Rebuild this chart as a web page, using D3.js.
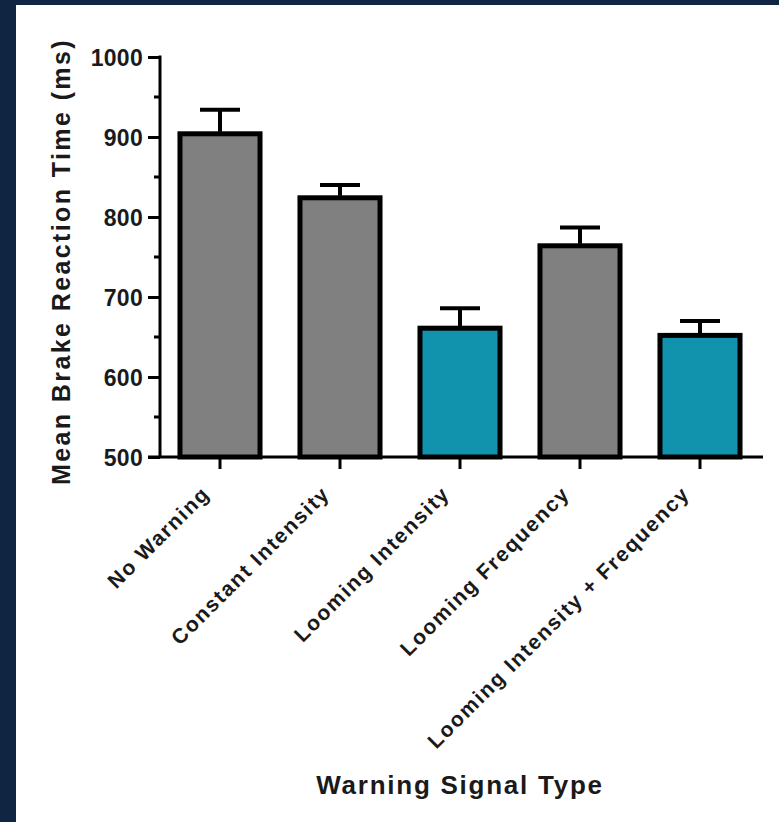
<!DOCTYPE html>
<html>
<head>
<meta charset="utf-8">
<script src="https://cdn.jsdelivr.net/npm/d3@7"></script>
<style>
  html, body { margin: 0; padding: 0; background: #0f2542; }
  svg { display: block; }
  text { font-family: "Liberation Sans", Arial, sans-serif; font-weight: bold; fill: #1a1a1a; }
</style>
</head>
<body>
<svg id="chart" width="779" height="822"></svg>
<script>
// Mean brake reaction time by warning signal type
const categories = ["No Warning", "Constant Intensity", "Looming Intensity", "Looming Frequency", "Looming Intensity + Frequency"];
const meanRT = [904, 824, 661, 764, 652];
const errorRT = [30, 16, 25, 23, 18];
const highlighted = [false, false, true, false, true];
const yTicks = [500, 600, 700, 800, 900, 1000];
const yMinorTicks = [550, 650, 750, 850, 950];

const svg = d3.select("#chart");
const W = 779, H = 822;

// page panel
svg.append("rect").attr("x", 0).attr("y", 0).attr("width", W).attr("height", H).attr("fill", "#0f2542");
svg.append("rect").attr("x", 16).attr("y", 5).attr("width", W - 16).attr("height", H - 5).attr("fill", "#ffffff");

const x = d3.scaleBand().domain(categories).range([160, 760]).paddingInner(0.333).paddingOuter(0.1665);
const y = d3.scaleLinear().domain([500, 1000]).range([457, 57]);

const ink = "#000000";

// bars
const g = svg.append("g");
g.selectAll("rect.bar").data(categories).join("rect")
  .attr("class", "bar")
  .attr("x", d => x(d))
  .attr("width", x.bandwidth())
  .attr("y", (d, i) => y(meanRT[i]))
  .attr("height", (d, i) => y(500) - y(meanRT[i]))
  .attr("fill", (d, i) => highlighted[i] ? "#1193ad" : "#808080")
  .attr("stroke", ink)
  .attr("stroke-width", 5);

// error bars (upper half)
const cx = d => x(d) + x.bandwidth() / 2;
g.selectAll("line.stem").data(categories).join("line")
  .attr("x1", cx).attr("x2", cx)
  .attr("y1", (d, i) => y(meanRT[i]) - 2)
  .attr("y2", (d, i) => y(meanRT[i] + errorRT[i]))
  .attr("stroke", ink).attr("stroke-width", 4);
g.selectAll("line.cap").data(categories).join("line")
  .attr("x1", d => cx(d) - 20).attr("x2", d => cx(d) + 20)
  .attr("y1", (d, i) => y(meanRT[i] + errorRT[i]))
  .attr("y2", (d, i) => y(meanRT[i] + errorRT[i]))
  .attr("stroke", ink).attr("stroke-width", 4);

// y axis
const yAxis = svg.append("g").attr("transform", "translate(160,0)")
  .call(d3.axisLeft(y).tickValues(yTicks).tickSize(12).tickPadding(5).tickFormat(d3.format("d")));
yAxis.select(".domain").attr("stroke", ink).attr("stroke-width", 3).attr("d", `M0,${y(1000) - 1.5}V${y(500)}`);
yAxis.selectAll(".tick line").attr("stroke", ink).attr("stroke-width", 3);
yAxis.selectAll(".tick text").attr("dy", "0.36em")
  .style("font-size", "23px").style("letter-spacing", "0.3px");
svg.append("g").attr("transform", "translate(160,0)").selectAll("line").data(yMinorTicks).join("line")
  .attr("x1", -6).attr("x2", 0).attr("y1", d => y(d)).attr("y2", d => y(d))
  .attr("stroke", ink).attr("stroke-width", 3);

// x axis
const xAxis = svg.append("g").attr("transform", `translate(0,${y(500)})`)
  .call(d3.axisBottom(x).tickSize(12).tickSizeOuter(0).tickFormat(""));
xAxis.select(".domain").attr("stroke", ink).attr("stroke-width", 3).attr("d", "M148,0H763");
xAxis.selectAll(".tick line").attr("stroke", ink).attr("stroke-width", 3);

// rotated category labels
svg.append("g").selectAll("text").data(categories).join("text")
  .attr("transform", d => `translate(${cx(d) - 9},${y(500) + 38}) rotate(-45)`)
  .attr("text-anchor", "end")
  .style("font-size", "21px")
  .style("letter-spacing", "1.7px")
  .text(d => d);

// axis titles
svg.append("text")
  .attr("transform", `translate(70,${(40 + 483) / 2}) rotate(-90)`)
  .attr("text-anchor", "middle")
  .style("font-size", "25px")
  .style("letter-spacing", "2.4px")
  .text("Mean Brake Reaction Time (ms)");

svg.append("text")
  .attr("x", 460).attr("y", 794)
  .attr("text-anchor", "middle")
  .style("font-size", "26px")
  .style("letter-spacing", "1.75px")
  .text("Warning Signal Type");
</script>
</body>
</html>
